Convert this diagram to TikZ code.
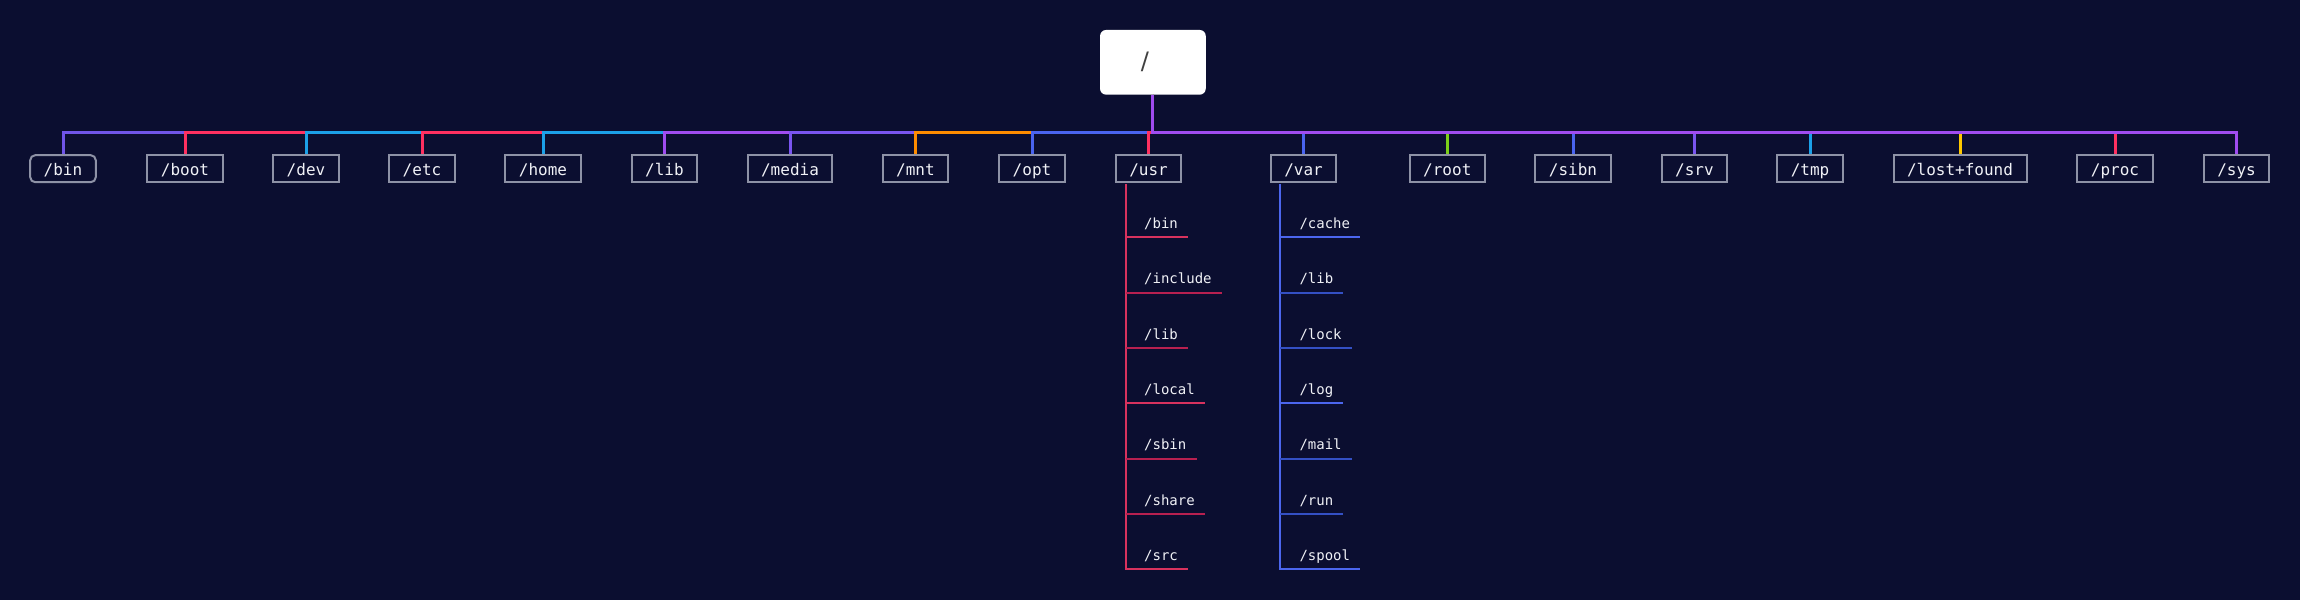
\documentclass[tikz,border=0pt]{standalone}
\usepackage{fontspec}
\setmonofont{DejaVu Sans Mono}
\setsansfont{DejaVu Sans}
\usetikzlibrary{calc}
\definecolor{bg}{HTML}{0B0E30}
\definecolor{boxgray}{HTML}{8E92A6}
\definecolor{txt}{HTML}{F0F1F6}
\definecolor{cbin}{HTML}{7055E8}
\definecolor{cred}{HTML}{FF3060}
\definecolor{csky}{HTML}{1CA0E8}
\definecolor{cpurple}{HTML}{A04CF0}
\definecolor{cviolet}{HTML}{7A55F0}
\definecolor{corange}{HTML}{FF8C00}
\definecolor{cblue}{HTML}{4A64F0}
\definecolor{cgreen}{HTML}{7CCF1A}
\definecolor{cyellow}{HTML}{FFC800}
\definecolor{usrline}{HTML}{D8325E}
\definecolor{usrdark}{HTML}{B82050}
\definecolor{varline}{HTML}{4C66EE}
\definecolor{vardark}{HTML}{3450C4}
\begin{document}
\begin{tikzpicture}[x=1pt,y=-1pt,
  dirbox/.style={draw=boxgray, line width=2pt, fill=bg, text=txt,
    font=\ttfamily\fontsize{16}{16}\selectfont, inner xsep=13.5pt, inner ysep=0pt,
    minimum height=27pt, text height=13pt, text depth=0pt},
  rootbox/.style={fill=white, rounded corners=6pt, minimum width=105.7pt, minimum height=64.7pt, inner sep=0pt},
  subitem/.style={text=txt, font=\ttfamily\fontsize{14}{14}\selectfont, inner sep=0pt, anchor=base west},
  edge/.style={line width=3pt},
  usrspine/.style={draw=usrline, line width=1.8pt},
  varspine/.style={draw=varline, line width=1.8pt},
  darksub/.style={line width=2.4pt}]
\fill[bg] (0,0) rectangle (2300,600);
\useasboundingbox (0,0) rectangle (2300,600);

\node[rootbox] (root) at (1152.9,62.3) {};
\node[text=black!75, font=\sffamily\fontsize{24}{24}\selectfont, inner sep=0pt] (rootlabel) at (1145,62) {/};
\coordinate (bus) at (1152.9,132);

\node[dirbox, rounded corners=5pt] (bin) at (63,168.7) {/bin};
\node[dirbox] (boot) at (185,168.7) {/boot};
\node[dirbox] (dev) at (306,168.7) {/dev};
\node[dirbox] (etc) at (422,168.7) {/etc};
\node[dirbox] (home) at (543,168.7) {/home};
\node[dirbox] (lib) at (664.4,168.7) {/lib};
\node[dirbox] (media) at (790,168.7) {/media};
\node[dirbox] (mnt) at (915.4,168.7) {/mnt};
\node[dirbox] (opt) at (1032,168.7) {/opt};
\node[dirbox] (usr) at (1148.6,168.7) {/usr};
\node[dirbox] (var) at (1303.6,168.7) {/var};
\node[dirbox] (rootdir) at (1447.3,168.7) {/root};
\node[dirbox] (sibn) at (1573,168.7) {/sibn};
\node[dirbox] (srv) at (1694.4,168.7) {/srv};
\node[dirbox] (tmp) at (1810,168.7) {/tmp};
\node[dirbox] (lost) at (1960,168.7) {/lost+found};
\node[dirbox] (proc) at (2115,168.7) {/proc};
\node[dirbox] (sys) at (2236.5,168.7) {/sys};

\foreach \n/\c in {bin/cbin, boot/cred, dev/csky, etc/cred, home/csky, lib/cpurple,
  media/cviolet, mnt/corange, opt/cblue, usr/cred, var/cblue, rootdir/cgreen,
  sibn/cblue, srv/cviolet, tmp/csky, lost/cyellow, proc/cred, sys/cpurple}
  \draw[edge, draw=\c] (root.south) -- (bus) -| (\n.north);

% /usr children
\coordinate (us) at ($(usr.south west)+(11,1)$);
\node[subitem] (u1) at (1144,228.3) {/bin};
\node[subitem] (u2) at (1144,283.7) {/include};
\node[subitem] (u3) at (1144,339) {/lib};
\node[subitem] (u4) at (1144,394.3) {/local};
\node[subitem] (u5) at (1144,449.7) {/sbin};
\node[subitem] (u6) at (1144,505) {/share};
\node[subitem] (u7) at (1144,560.3) {/src};
\foreach \k in {u1,u4,u7}
  \draw[usrspine] (us) |- ($(\k.base east)+(10,9)$);
\foreach \k in {u2,u3,u5,u6}
  \draw[darksub, draw=usrdark] (us |- {$(\k.base east)+(10,9)$}) -- ($(\k.base east)+(10,9)$);

% /var children
\coordinate (vs) at ($(var.south west)+(10.5,1)$);
\node[subitem] (v1) at (1299.3,228.3) {/cache};
\node[subitem] (v2) at (1299.3,283.7) {/lib};
\node[subitem] (v3) at (1299.3,339) {/lock};
\node[subitem] (v4) at (1299.3,394.3) {/log};
\node[subitem] (v5) at (1299.3,449.7) {/mail};
\node[subitem] (v6) at (1299.3,505) {/run};
\node[subitem] (v7) at (1299.3,560.3) {/spool};
\foreach \k in {v1,v4,v7}
  \draw[varspine] (vs) |- ($(\k.base east)+(10,9)$);
\foreach \k in {v2,v3,v5,v6}
  \draw[darksub, draw=vardark] (vs |- {$(\k.base east)+(10,9)$}) -- ($(\k.base east)+(10,9)$);
\end{tikzpicture}
\end{document}
